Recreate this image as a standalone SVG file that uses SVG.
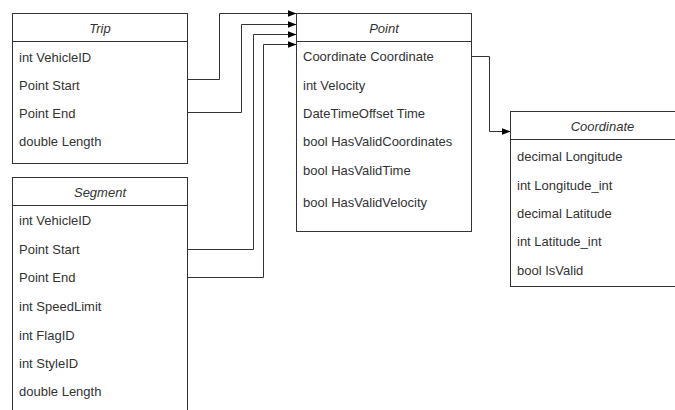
<svg xmlns="http://www.w3.org/2000/svg" width="675" height="410" viewBox="0 0 675 410">
<style>
.box{fill:#fff;stroke:#333;stroke-width:1}
.sep{stroke:#333;stroke-width:1}
.t{font-family:"Liberation Sans",Arial,sans-serif;font-size:13px;fill:#333}
.h{font-family:"Liberation Sans",Arial,sans-serif;font-size:13px;fill:#333;font-style:italic;text-anchor:middle}
.c{fill:none;stroke:#333;stroke-width:1}
</style>
<defs>
<marker id="arr" markerUnits="userSpaceOnUse" markerWidth="10" markerHeight="10" refX="9" refY="4" orient="auto" viewBox="0 0 10 8">
<path d="M0,0.5 L9,4 L0,7.5 Z" fill="#000"/>
</marker>
</defs>
<rect width="675" height="410" fill="#fff"/>
<g id="connectors">
<path class="c" d="M187.5,79.5 H219.5 V13.5 H296.5" marker-end="url(#arr)"/>
<path class="c" d="M187.5,112.5 H241.5 V24.5 H296.5" marker-end="url(#arr)"/>
<path class="c" d="M187.5,249.5 H253.5 V34.5 H296.5" marker-end="url(#arr)"/>
<path class="c" d="M187.5,277.5 H263.5 V44.5 H296.5" marker-end="url(#arr)"/>
<path class="c" d="M471.5,56.5 H489.5 V131.5 H510.5" marker-end="url(#arr)"/>
</g>
<g id="trip">
<rect class="box" x="12.5" y="13.5" width="175" height="150"/>
<line class="sep" x1="12.5" y1="41.5" x2="187.5" y2="41.5"/>
<text class="h" x="100" y="32.8">Trip</text>
<text class="t" x="19" y="61.5">int VehicleID</text>
<text class="t" x="19" y="89.5">Point Start</text>
<text class="t" x="19" y="117.5">Point End</text>
<text class="t" x="19" y="146">double Length</text>
</g>
<g id="segment">
<rect class="box" x="12.5" y="177.5" width="175" height="240"/>
<line class="sep" x1="12.5" y1="205.5" x2="187.5" y2="205.5"/>
<text class="h" x="100" y="197.2">Segment</text>
<text class="t" x="19" y="225.2">int VehicleID</text>
<text class="t" x="19" y="253.8">Point Start</text>
<text class="t" x="19" y="281.8">Point End</text>
<text class="t" x="19" y="311.2">int SpeedLimit</text>
<text class="t" x="19" y="339.5">int FlagID</text>
<text class="t" x="19" y="367.8">int StyleID</text>
<text class="t" x="19" y="396.2">double Length</text>
</g>
<g id="point">
<rect class="box" x="296.5" y="13.5" width="175" height="218"/>
<line class="sep" x1="296.5" y1="41.5" x2="471.5" y2="41.5"/>
<text class="h" x="384" y="32.8">Point</text>
<text class="t" x="303" y="61.2">Coordinate Coordinate</text>
<text class="t" x="303" y="89.5">int Velocity</text>
<text class="t" x="303" y="117.8">DateTimeOffset Time</text>
<text class="t" x="303" y="146.2">bool HasValidCoordinates</text>
<text class="t" x="303" y="174.5">bool HasValidTime</text>
<text class="t" x="303" y="207.2">bool HasValidVelocity</text>
</g>
<g id="coordinate">
<rect class="box" x="510.5" y="111.5" width="185" height="175"/>
<line class="sep" x1="510.5" y1="139.5" x2="695.5" y2="139.5"/>
<text class="h" x="602.5" y="131.2">Coordinate</text>
<text class="t" x="517" y="161.2">decimal Longitude</text>
<text class="t" x="517" y="189.5">int Longitude_int</text>
<text class="t" x="517" y="217.8">decimal Latitude</text>
<text class="t" x="517" y="246.2">int Latitude_int</text>
<text class="t" x="517" y="274.5">bool IsValid</text>
</g>
</svg>
